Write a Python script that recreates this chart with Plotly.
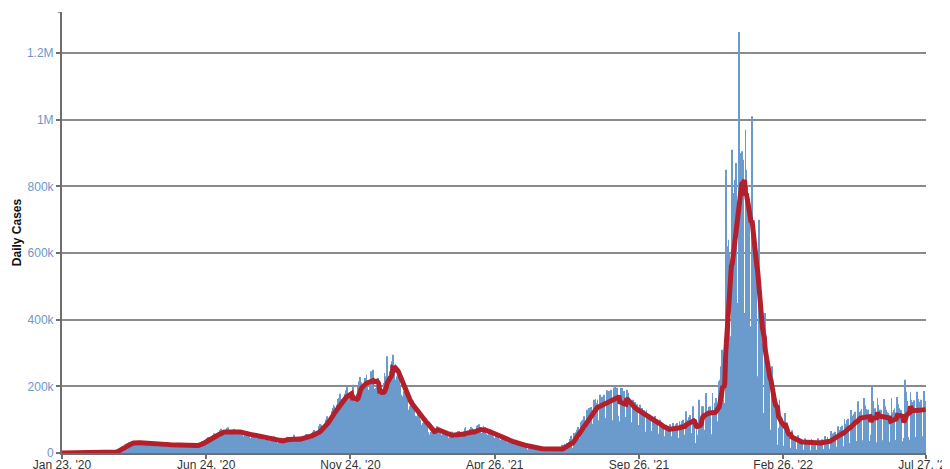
import pandas as pd
import plotly.graph_objects as go

# Daily new cases (thousands), one row per week (Thu..Wed), starting Thu Jan 23 2020
weeks_2020 = [
    [0, 0, 0, 0, 0, 0, 0], [0, 0, 0, 0, 0, 0, 0], [0, 0, 0, 0, 0, 0, 0],
    [0, 0, 0, 0, 0, 0, 0], [0, 0, 0, 0, 0, 0, 0],
    [0, 0, 0.01, 0.01, 0.02, 0.02, 0.03],
    [0.06, 0.08, 0.1, 0.12, 0.2, 0.27, 0.4],
    [0.5, 0.7, 0.8, 1.0, 1.2, 1.5, 2.5],
    [4.5, 5.5, 6.5, 7.5, 9, 10, 11.5],
    [17, 19, 20, 19, 21, 25, 26],
    [29, 32, 33, 28, 27, 29, 32],
    [34, 35, 31, 29, 27, 28, 31],
    [32, 33, 31, 27, 25, 27, 29],
    [32, 33, 31, 26, 24, 26, 28],
    [31, 32, 29, 26, 23, 25, 27],
    [30, 30, 28, 24, 21, 24, 25],
    [28, 28, 26, 22, 20, 22, 24],
    [26, 26, 24, 20, 17, 19, 22],
    [24, 25, 24, 21, 19, 20, 21],
    [24, 25, 23, 20, 18, 20, 22],
    [24, 26, 25, 20, 19, 23, 26],
    [31, 35, 36, 30, 29, 36, 41],
    [44, 48, 47, 44, 42, 50, 54],
    [59, 57, 50, 48, 48, 63, 67],
    [68, 73, 63, 55, 52, 62, 67],
    [75, 77, 66, 58, 55, 64, 70],
    [71, 73, 64, 56, 52, 61, 68],
    [68, 69, 58, 50, 47, 55, 56],
    [59, 64, 57, 47, 45, 52, 57],
    [58, 60, 53, 44, 40, 47, 47],
    [51, 52, 47, 41, 36, 40, 45],
    [46, 50, 43, 36, 34, 40, 41],
    [45, 50, 41, 34, 29, 28, 38],
    [40, 46, 40, 34, 31, 38, 39],
    [45, 49, 44, 36, 34, 40, 40],
    [46, 55, 43, 37, 33, 40, 41],
    [46, 49, 47, 36, 35, 44, 51],
    [57, 57, 53, 42, 42, 50, 59],
    [64, 69, 57, 48, 58, 61, 63],
    [80, 87, 85, 66, 76, 81, 86],
    [100, 110, 103, 90, 98, 107, 125],
    [135, 145, 140, 118, 125, 145, 162],
    [165, 178, 162, 140, 148, 162, 178],
    [188, 198, 178, 148, 168, 178, 185],
    [110, 205, 155, 135, 160, 178, 200],
    [215, 228, 212, 178, 182, 208, 225],
    [225, 235, 218, 185, 190, 200, 245],
    [235, 250, 193, 190, 195, 200, 225],
    [200, 100, 195, 160, 180, 210, 240],
]
weeks_2021 = [
    [230, 160, 290, 215, 195, 245, 265],
    [275, 295, 265, 215, 220, 230, 235],
    [240, 245, 205, 175, 145, 170, 185],
    [190, 185, 160, 122, 130, 140, 148],
    [160, 158, 138, 102, 112, 110, 115],
    [122, 130, 100, 75, 85, 90, 96],
    [100, 104, 85, 62, 55, 55, 63],
    [74, 82, 72, 50, 58, 72, 80],
    [75, 76, 62, 46, 55, 60, 62],
    [62, 65, 52, 38, 46, 53, 57],
    [64, 64, 52, 40, 46, 54, 62],
    [66, 66, 50, 38, 48, 56, 65],
    [74, 78, 57, 42, 52, 63, 72],
    [78, 75, 62, 38, 62, 72, 82],
    [84, 86, 63, 44, 60, 74, 82],
    [78, 78, 58, 40, 55, 65, 72],
    [68, 70, 50, 34, 45, 56, 62],
    [58, 58, 42, 28, 40, 48, 54],
    [50, 48, 35, 22, 32, 40, 45],
    [40, 39, 28, 18, 26, 32, 37],
    [32, 32, 22, 14, 22, 25, 30],
    [27, 24, 17, 10, 10, 20, 24],
    [19, 22, 12, 8, 12, 15, 17],
    [16, 18, 10, 6, 10, 13, 15],
    [15, 16, 8, 5, 10, 13, 14],
    [15, 17, 8, 5, 11, 13, 15],
    [17, 12, 4, 3, 5, 25, 20],
    [25, 28, 9, 6, 30, 30, 33],
    [42, 52, 16, 11, 60, 55, 62],
    [70, 78, 50, 44, 92, 88, 97],
    [100, 110, 72, 62, 130, 126, 135],
    [128, 138, 88, 78, 160, 155, 163],
    [150, 160, 98, 86, 175, 162, 169],
    [165, 175, 105, 92, 188, 172, 186],
    [180, 190, 112, 98, 196, 180, 200],
    [188, 196, 112, 95, 70, 196, 195],
    [178, 186, 108, 92, 190, 170, 181],
    [155, 160, 92, 80, 160, 145, 153],
    [140, 146, 84, 72, 145, 132, 135],
    [122, 128, 74, 64, 128, 116, 117],
    [110, 115, 66, 56, 105, 108, 111],
    [95, 100, 58, 49, 100, 88, 91],
    [82, 86, 50, 42, 85, 75, 77],
    [82, 86, 50, 43, 90, 79, 81],
    [86, 90, 53, 45, 95, 84, 86],
    [96, 100, 55, 46, 125, 95, 99],
    [108, 114, 60, 50, 140, 105, 88],
    [30, 85, 55, 48, 160, 112, 112],
    [140, 140, 70, 58, 180, 125, 127],
    [138, 140, 70, 56, 180, 128, 128],
    [150, 165, 95, 80, 215, 220, 260],
    [310, 230, 60, 150, 850, 560, 620],
]
weeks_2022 = [
    [640, 600, 300, 350, 910, 720, 780],
    [820, 870, 450, 400, 1263, 860, 900],
    [905, 880, 500, 420, 970, 850, 800],
    [780, 760, 380, 300, 1010, 620, 620],
    [600, 560, 230, 170, 700, 420, 400],
    [380, 330, 120, 90, 420, 280, 260],
    [240, 220, 70, 45, 260, 180, 160],
    [150, 140, 40, 25, 75, 160, 110],
    [100, 95, 22, 15, 120, 70, 65],
    [52, 54, 16, 13, 68, 58, 54],
    [40, 42, 12, 10, 53, 46, 42],
    [33, 35, 10, 9, 44, 38, 35],
    [32, 34, 10, 8, 42, 36, 34],
    [33, 35, 10, 9, 44, 38, 35],
    [39, 41, 12, 10, 51, 44, 41],
    [48, 42, 13, 9, 66, 58, 58],
    [61, 64, 19, 16, 80, 69, 62],
    [78, 82, 24, 20, 102, 88, 82],
    [99, 103, 30, 26, 129, 112, 103],
    [118, 124, 36, 31, 155, 134, 123],
    [127, 132, 38, 33, 165, 143, 132],
    [128, 130, 36, 30, 55, 200, 156],
    [124, 134, 40, 32, 165, 145, 130],
    [124, 130, 38, 32, 162, 140, 130],
    [122, 120, 34, 28, 95, 165, 122],
    [129, 134, 39, 34, 168, 146, 134],
    [130, 128, 35, 28, 45, 220, 184],
    [150, 156, 48, 40, 182, 160, 153],
    [150, 158, 48, 40, 184, 162, 154],
    [153, 160, 50, 42, 186, 164, 156],
]

start_date = "2020-01-23"
x_range_end = "2022-07-27 12:00"
x_tick_dates = ["2020-01-23", "2020-06-24", "2020-11-24", "2021-04-26",
                "2021-09-26", "2022-02-26", "2022-07-27"]
x_tick_text = ["Jan 23, '20", "Jun 24, '20", "Nov 24, '20", "Apr 26, '21",
               "Sep 26, '21", "Feb 26, '22", "Jul 27, '22"]
y_tick_vals = [0, 200000, 400000, 600000, 800000, 1000000, 1200000]
y_tick_text = ["0", "200k", "400k", "600k", "800k", "1M", "1.2M"]
y_max = 1323000

daily = [v * 1000 for row in weeks_2020 + weeks_2021 + weeks_2022 for v in row]
dates = pd.date_range(start_date, periods=len(daily), freq="D")
avg7 = pd.Series(daily).rolling(7, min_periods=1).mean()

fig = go.Figure()
fig.add_trace(go.Bar(x=dates, y=daily, marker=dict(color="#6b9bcc", line=dict(width=0)),
                     hoverinfo="skip"))
fig.add_trace(go.Scatter(x=dates, y=avg7, mode="lines",
                         line=dict(color="#b31f2a", width=5),
                         hoverinfo="skip"))

axis_col = "#6e6e6e"
fig.update_layout(
    width=950, height=469,
    margin=dict(l=54, r=32, t=4, b=24),
    paper_bgcolor="white", plot_bgcolor="white",
    showlegend=False, bargap=0.18,
    font=dict(family="Arial, Liberation Sans, sans-serif", size=12, color="#333"),
    xaxis=dict(type="date", range=[start_date, x_range_end], automargin=False,
               tickvals=x_tick_dates, ticktext=x_tick_text,
               showgrid=False, zeroline=False,
               showline=True, linecolor=axis_col, linewidth=1.5,
               ticks="outside", ticklen=4, tickcolor=axis_col, tickwidth=1.5,
               ticklabelstandoff=-4,
               tickfont=dict(size=12, color="#333")),
    yaxis=dict(range=[0, y_max], tickvals=y_tick_vals, ticktext=y_tick_text,
               automargin=False,
               showgrid=True, gridcolor="#8a8a8a", gridwidth=1.6,
               zeroline=False,
               showline=True, linecolor=axis_col, linewidth=2,
               ticks="outside", ticklen=4, tickcolor=axis_col, tickwidth=1.5,
               tickfont=dict(size=12, color="#6f96c8"),
               title=dict(text="<b>Daily Cases</b>", standoff=3,
                          font=dict(size=12, color="#111"))),
)
fig.add_shape(type="line", xref="paper", yref="y", x0=-0.005, x1=0,
              y0=y_max, y1=y_max, line=dict(color=axis_col, width=1.5))

fig.write_html("out.html")
